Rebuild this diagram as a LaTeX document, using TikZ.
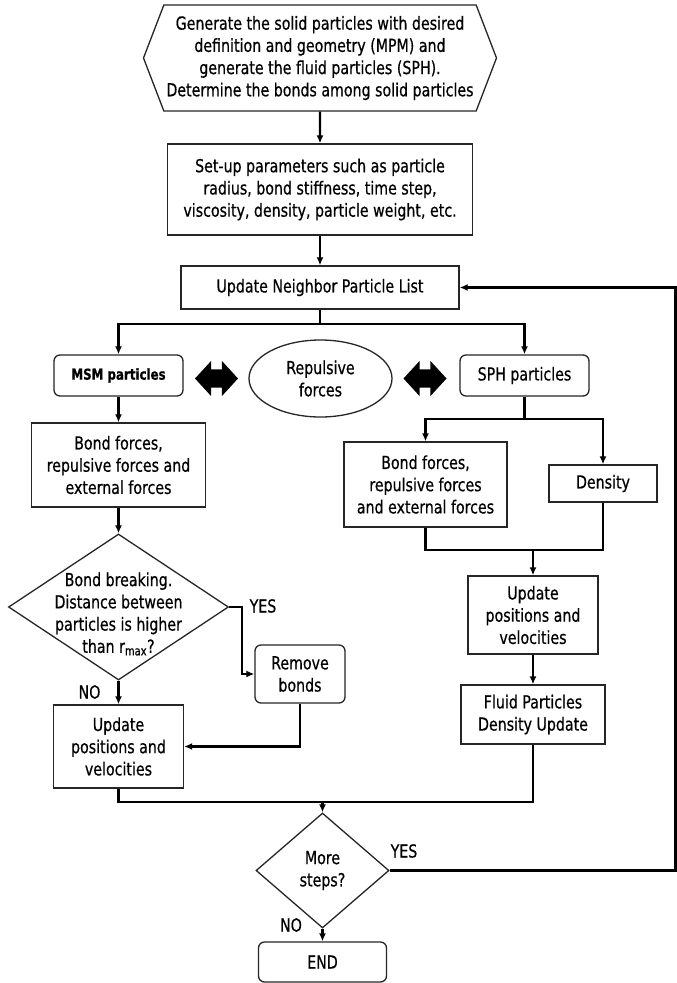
\documentclass[tikz,border=0pt]{standalone}
\usepackage{fontspec}
\setmainfont{DejaVu Sans Condensed}[FakeStretch=0.88, FakeBold=0.6]
\usetikzlibrary{shapes.geometric,shapes.symbols,shapes.arrows,arrows.meta}

\begin{document}
\begin{tikzpicture}[
        x=1bp, y=-1bp,
        font=\fontsize{18}{22.3}\selectfont,
        box/.style={
            rectangle, draw=black!85, line width=1.3bp,
            fill=white, inner sep=2bp, align=center
        },
        rbox/.style={box, rounded corners=6bp},
        hexbox/.style={
            signal, signal to=west and east,
            signal pointer angle=138, draw=black!85,
            line width=1.3bp, inner sep=0, align=center
        },
        decision/.style={
            diamond, draw=black!85, line width=1.3bp,
            inner sep=0, align=center
        },
        blob/.style={
            ellipse, draw=black!85, line width=1.3bp,
            inner sep=0, align=center
        },
        fatarrow/.style={
            double arrow, fill=black, draw=none,
            inner xsep=0, inner ysep=9bp, minimum height=43bp,
            double arrow head extend=8.5bp, double arrow tip angle=95
        },
        lbl/.style={font=\fontsize{18}{20}\selectfont},
        wire/.style={line width=2.2bp},
        arr/.style={-{Latex[length=8bp,width=7bp]}, line width=2.2bp}
    ]
    \useasboundingbox[fill=white] (0,0) rectangle (677,983);

    % setup chain
    \node[hexbox, minimum width=353bp, minimum height=106bp] (gen) at (320,58)
        {Generate the solid particles with desired\\definition and geometry (MPM) and\\generate the fluid particles (SPH).\\Determine the bonds among solid particles};
    \node[box, minimum width=305bp, minimum height=91bp] (setup) at (320,189.5)
        {Set-up parameters such as particle\\radius, bond stiffness, time step,\\viscosity, density, particle weight, etc.};
    \node[box, minimum width=278bp, minimum height=43bp] (neigh) at (320,287.5)
        {Update Neighbor Particle List};

    % particle types and the forces between them
    \node[rbox, minimum width=129bp, minimum height=41bp, font=\fontsize{15}{18}\selectfont\bfseries] (msm) at (118.5,375.5) {MSM particles};
    \node[fatarrow] (dl) at (216.5,378.5) {};
    \node[blob, minimum width=143bp, minimum height=77bp] (rep) at (320.5,378.5) {Repulsive\\forces};
    \node[fatarrow] (dr) at (425,378.5) {};
    \node[rbox, minimum width=129bp, minimum height=41bp] (sph) at (524.5,375.5) {SPH particles};

    % solid side
    \node[box, minimum width=174bp, minimum height=84bp] (bondl) at (118.5,465)
        {Bond forces,\\repulsive forces and\\external forces};
    \node[decision, minimum width=220bp, minimum height=146bp] (brk) at (118.5,607) {};
    \node[align=center] (brktxt) at (118.5,614)
        {Bond breaking.\\Distance between\\particles is higher\\than r\textsubscript{max}?};
    \node[rbox, minimum width=90bp, minimum height=58bp] (rem) at (300,674) {Remove\\bonds};
    \node[box, minimum width=130bp, minimum height=83bp] (updl) at (118.5,746.5)
        {Update\\positions and\\velocities};
    \node[lbl] (yes1) at (263,606) {YES};
    \node[lbl] (no1) at (89.5,692) {NO};

    % fluid side
    \node[box, minimum width=163bp, minimum height=85bp] (bondr) at (425.5,484.5)
        {Bond forces,\\repulsive forces\\and external forces};
    \node[box, minimum width=108bp, minimum height=37bp] (dens) at (603,483.5) {Density};
    \node[box, minimum width=130bp, minimum height=78bp] (updr) at (533,615)
        {Update\\positions and\\velocities};
    \node[box, minimum width=144bp, minimum height=59bp] (fluid) at (533,714.5)
        {Fluid Particles\\Density Update};

    % time loop
    \node[decision, minimum width=133bp, minimum height=115bp] (more) at (322.5,870.5) {More\\steps?};
    \node[rbox, minimum width=128bp, minimum height=40bp] (endn) at (322.5,962) {END};
    \node[lbl] (yes2) at (404,851) {YES};
    \node[lbl] (no2) at (291,925) {NO};

    \coordinate (mr) at (533,549);
    \coordinate (mb) at (322.5,801);
    \coordinate (loop) at (675.5,870.5);

    % connectors
    \draw[arr] (gen) -- (setup);
    \draw[arr] (setup) -- (neigh);
    \draw[arr] (neigh.south) -- ++(0,14) -| (msm.north);
    \draw[arr] (neigh.south) -- ++(0,14) -| (sph.north);

    \draw[arr] (msm) -- (bondl);
    \draw[arr] (bondl) -- (brk);
    \draw[arr] (brk.east) -- ++(13,0) |- (rem.west);
    \draw[arr] (brk.south) -- (updl.north);
    \draw[arr] (rem.south) |- (updl.east);

    \draw[arr] (sph.south) -- ++(0,22) -| (bondr.north);
    \draw[arr] (sph.south) -- ++(0,22) -| (dens.north);
    \draw[wire] (bondr.south) -- ++(0,22) -| (dens.south);
    \draw[arr] (mr) -- (updr.north);
    \draw[arr] (updr) -- (fluid);

    \draw[wire] (updl.south) -- ++(0,13) -| (fluid.south);
    \draw[arr] (mb) -- (more.north);
    \draw[arr] (more.east) -- (loop) |- (neigh.east);
    \draw[arr] (more.south) -- (endn.north);

\end{tikzpicture}
\end{document}
